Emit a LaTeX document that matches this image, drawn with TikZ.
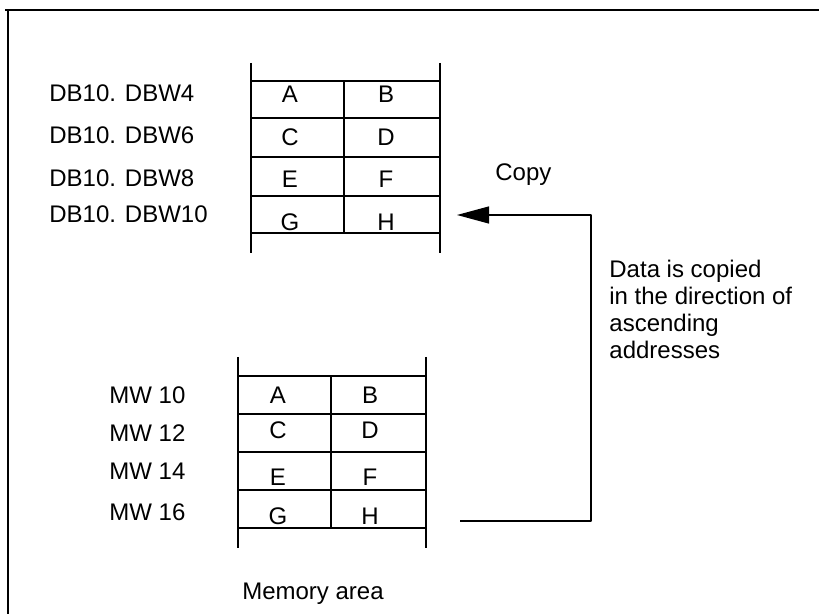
\documentclass[tikz,border=0pt]{standalone}
\usepackage{fontspec}
\setmainfont{Liberation Sans}
\usetikzlibrary{arrows.meta}
\begin{document}
\begin{tikzpicture}[x=0.5pt,y=-0.5pt,line join=round,
    font=\fontsize{12}{13.5}\selectfont,
    >={Triangle[length=16pt,width=8.5pt]},
    txt/.style={inner sep=0pt,anchor=base west},
    cell/.style={inner sep=0pt,anchor=base},
    rule/.style={line width=1pt},
    flow/.style={line width=0.6pt}]
\useasboundingbox (0,0) rectangle (819,614);
\draw[line width=1pt] (5,10)--(819,10) (8,10)--(8,614);
% data block
\draw[rule]
    (251,63)--(251,253) (440,63)--(440,253) (344,81)--(344,233);
\foreach \y in {81,118,157,196,233} \draw[rule] (251,\y)--(440,\y);
\foreach \t/\y [count=\i] in {DB10. DBW4/102,DB10. DBW6/144,DB10. DBW8/187,DB10. DBW10/223}
    \node[txt] (dbw\i) at (49,\y) {\t};
\foreach \l/\r/\y [count=\i] in {A/B/103,C/D/146,E/F/188,G/H/231}{
    \node[cell] (dbl\i) at (290,\y) {\l};
    \node[cell] (dbr\i) at (386,\y) {\r};
}
% memory area
\draw[rule]
    (238,357)--(238,548) (426,357)--(426,548) (331,376)--(331,528);
\foreach \y in {376,414,452,490,528} \draw[rule] (238,\y)--(426,\y);
\foreach \t/\y [count=\i] in {MW 10/404,MW 12/442,MW 14/480,MW 16/520}
    \node[txt] (mw\i) at (109,\y) {\t};
\foreach \l/\r/\y [count=\i] in {A/B/404,C/D/438,E/F/486,G/H/524}{
    \node[cell] (mwl\i) at (278,\y) {\l};
    \node[cell] (mwr\i) at (370,\y) {\r};
}
\node[cell] (mem) at (313,599) {Memory area};
% copy
\coordinate (src) at (460,521);
\coordinate (bend) at (591,521);
\coordinate (dst) at (457,215);
\draw[flow,->] (src)--(bend) |- (dst);
\node[txt] (copy) at (495,181) {Copy};
\node[inner sep=0pt,anchor=north west,align=left] (note) at (609,260)
    {Data is copied\\in the direction of\\ascending\\addresses};
\end{tikzpicture}
\end{document}
